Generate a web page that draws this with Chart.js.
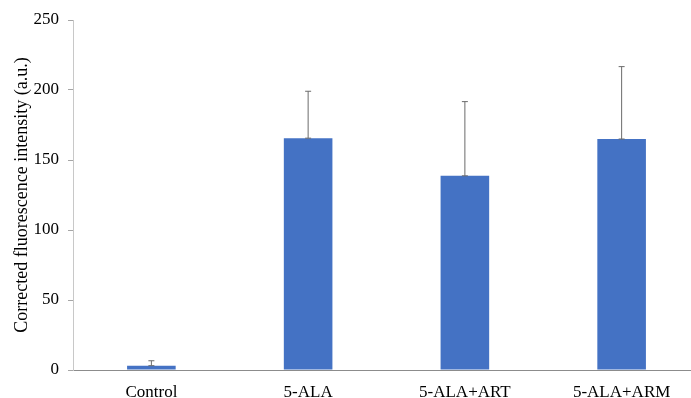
<!DOCTYPE html>
<html>
<head>
<meta charset="utf-8">
<script src="https://cdn.jsdelivr.net/npm/chart.js@4/dist/chart.umd.min.js"></script>
<style>
  html, body { margin: 0; padding: 0; background: #ffffff; overflow: hidden; }
  #wrap { position: relative; width: 712px; height: 398px; }
</style>
</head>
<body>
<div id="wrap"><canvas id="chart" width="712" height="398"></canvas></div>
<script>
// Groups and measured values (mean and upper error, a.u.)
const categories = ['Control', '5-ALA', '5-ALA+ART', '5-ALA+ARM'];
const meanValues = [3.1, 165.6, 138.7, 165.0];
const errorValues = [3.5, 33.5, 53.0, 51.7];
const yTicks = [0, 50, 100, 150, 200, 250];

const serif = "'Liberation Serif', 'Times New Roman', serif";

// Upward error bars drawn on top of each bar
const errorBarPlugin = {
  id: 'errorBars',
  afterDatasetsDraw(chart) {
    const meta = chart.getDatasetMeta(0);
    const yScale = chart.scales.y;
    const ctx = chart.ctx;
    ctx.save();
    ctx.strokeStyle = '#6b6b6b';
    ctx.lineWidth = 1;
    meta.data.forEach((bar, i) => {
      const x = bar.x;
      const yBase = yScale.getPixelForValue(meanValues[i]);
      const yTop = yScale.getPixelForValue(meanValues[i] + errorValues[i]);
      ctx.beginPath();
      ctx.moveTo(x, yBase);
      ctx.lineTo(x, yTop);
      ctx.moveTo(x - 3, yTop);
      ctx.lineTo(x + 3, yTop);
      ctx.moveTo(x - 3, yBase);
      ctx.lineTo(x + 3, yBase);
      ctx.stroke();
    });
    ctx.restore();
  }
};

new Chart(document.getElementById('chart'), {
  type: 'bar',
  data: {
    labels: categories,
    datasets: [{
      data: meanValues,
      backgroundColor: '#4472C4',
      borderWidth: 0,
      categoryPercentage: 1.0,
      barPercentage: 0.31
    }]
  },
  options: {
    responsive: false,
    animation: false,
    devicePixelRatio: 1,
    layout: { padding: { top: 20, right: 12, bottom: 0, left: 0 } },
    plugins: {
      legend: { display: false },
      tooltip: { enabled: false }
    },
    scales: {
      x: {
        grid: { display: false, drawTicks: false },
        border: { display: true, color: '#8c8c8c', width: 1 },
        ticks: {
          color: '#000000',
          padding: 12,
          font: { family: serif, size: 17 },
          maxRotation: 0
        },
        afterFit(scale) { scale.height = 28; }
      },
      y: {
        min: 0,
        max: 250,
        afterBuildTicks(scale) { scale.ticks = yTicks.map(v => ({ value: v })); },
        grid: {
          drawOnChartArea: false,
          drawTicks: true,
          tickLength: 5,
          color: '#a6a6a6'
        },
        border: { display: true, color: '#c8c8c8', width: 1 },
        ticks: {
          color: '#000000',
          padding: 9,
          font: { family: serif, size: 17 }
        },
        title: {
          display: true,
          text: 'Corrected fluorescence intensity (a.u.)',
          color: '#000000',
          font: { family: serif, size: 18 },
          padding: { top: 11, bottom: 0 }
        },
        afterFit(scale) { scale.width = 73; }
      }
    }
  },
  plugins: [errorBarPlugin]
});
</script>
</body>
</html>
